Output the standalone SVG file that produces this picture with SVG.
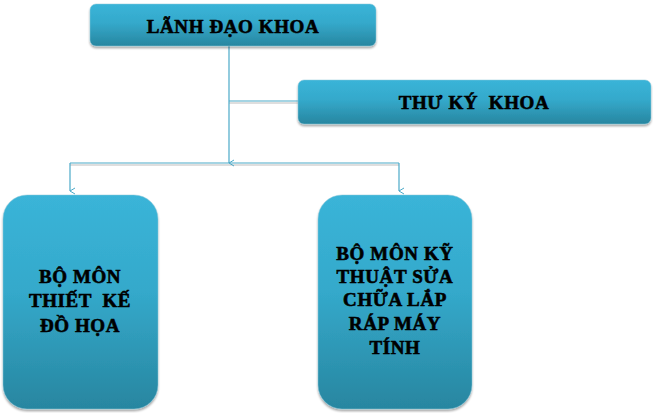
<svg xmlns="http://www.w3.org/2000/svg" width="653" height="413" viewBox="0 0 653 413">
<defs>
<linearGradient id="g" x1="0" y1="0" x2="0" y2="1">
<stop offset="0" stop-color="#3AB4D8"/>
<stop offset="0.45" stop-color="#34A9CB"/>
<stop offset="1" stop-color="#2886A0"/>
</linearGradient>
<filter id="sh" x="-5%" y="-5%" width="110%" height="115%">
<feGaussianBlur in="SourceAlpha" stdDeviation="1.2"/>
<feOffset dx="0" dy="2"/>
<feComponentTransfer><feFuncA type="linear" slope="0.35"/></feComponentTransfer>
<feMerge><feMergeNode/><feMergeNode in="SourceGraphic"/></feMerge>
</filter>
<marker id="ar" viewBox="0 0 8 8" refX="4" refY="7" markerWidth="8" markerHeight="8" markerUnits="userSpaceOnUse" orient="auto-start-reverse">
<path d="M1,2 L4,7 L7,2" fill="none" stroke="#4AA9C8" stroke-width="1"/>
</marker>
</defs>
<style>
.box{fill:url(#g);stroke:#8FC9DB;stroke-width:0.5;filter:url(#sh)}
.t{font-family:"Liberation Serif","Times New Roman",serif;font-weight:bold;font-size:19px;letter-spacing:0.6px;fill:#000;stroke:#000;stroke-width:0.6;text-anchor:middle;white-space:pre}
.ln{stroke:#4AA9C8;stroke-width:1.2;fill:none}
.gl{stroke:#BDBDBD;stroke-width:1.2;fill:none}
</style>
<g id="connectors">
<line class="gl" x1="229" y1="103" x2="299" y2="103"/>
<line class="ln" x1="229" y1="101" x2="299" y2="101"/>
<line class="gl" x1="70" y1="165" x2="399" y2="165"/>
<line class="ln" x1="70" y1="163" x2="399" y2="163"/>
<line class="ln" x1="229" y1="46" x2="229" y2="163" marker-end="url(#ar)"/>
<line class="ln" x1="70" y1="163" x2="70" y2="191" marker-end="url(#ar)"/>
<line class="ln" x1="399" y1="163" x2="399" y2="191" marker-end="url(#ar)"/>
</g>
<g id="lanh-dao-khoa">
<rect class="box" x="90" y="4" width="286" height="42" rx="6"/>
<text class="t" x="233" y="33">LÃNH ĐẠO KHOA</text>
</g>
<g id="thu-ky-khoa">
<rect class="box" x="298" y="80" width="353" height="44" rx="6"/>
<text class="t" x="474" y="109">THƯ KÝ  KHOA</text>
</g>
<g id="bo-mon-tkdh">
<rect class="box" x="3" y="195" width="155" height="214" rx="24"/>
<text class="t" x="80" y="283">BỘ MÔN</text>
<text class="t" x="80" y="307">THIẾT  KẾ</text>
<text class="t" x="80" y="332">ĐỒ HỌA</text>
</g>
<g id="bo-mon-ktsc">
<rect class="box" x="318" y="195" width="154" height="214" rx="24"/>
<text class="t" x="395" y="260">BỘ MÔN KỸ</text>
<text class="t" x="395" y="283">THUẬT SỬA</text>
<text class="t" x="395" y="306">CHỮA LẮP</text>
<text class="t" x="395" y="330">RÁP MÁY</text>
<text class="t" x="395" y="354">TÍNH</text>
</g>
</svg>
